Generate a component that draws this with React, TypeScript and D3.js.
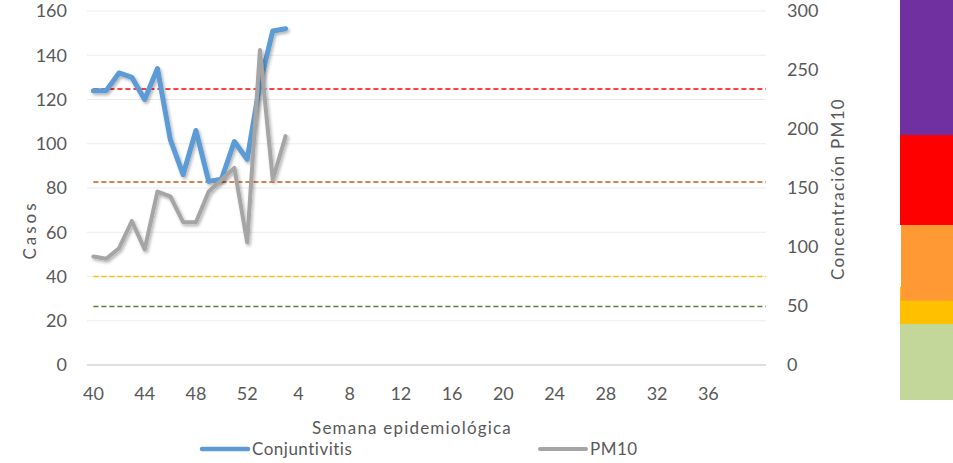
import React, { useEffect, useRef } from 'react';
import * as d3 from 'd3';

// semanas epidemiológicas (40 a 52, luego 1 a 40)
const weeks = [40, 41, 42, 43, 44, 45, 46, 47, 48, 49, 50, 51, 52,
  1, 2, 3, 4, 5, 6, 7, 8, 9, 10, 11, 12, 13, 14, 15, 16, 17, 18, 19, 20,
  21, 22, 23, 24, 25, 26, 27, 28, 29, 30, 31, 32, 33, 34, 35, 36, 37, 38, 39, 40];
const tickLabels = ['40', '44', '48', '52', '4', '8', '12', '16', '20', '24', '28', '32', '36'];

const conjuntivitis = [124, 124, 132, 130, 120, 134, 102, 86, 106, 83, 84, 101, 93, 127, 151, 152];
const pm10 = [92, 90, 99, 122, 98, 147, 143, 121, 121, 147, 157, 167, 104, 267, 157, 194];

const leftTicks = [0, 20, 40, 60, 80, 100, 120, 140, 160];
const rightTicks = [0, 50, 100, 150, 200, 250, 300];

// umbrales PM10 (eje derecho)
const thresholds = [
  { value: 234, color: '#ff0000' },
  { value: 155, color: '#c55a11' },
  { value: 75, color: '#ffc000' },
  { value: 49.5, color: '#548235' },
];

// barra de colores a la derecha (unidades relativas de la escala de la barra)
const colorBands = [
  { from: 265, to: 400, color: '#7030a0' },
  { from: 175, to: 265, color: '#ff0000' },
  { from: 76, to: 113.3, color: '#ffc000' },
  { from: 99.3, to: 175, color: '#ff9933' },
  { from: 0, to: 76, color: '#c4d79b' },
];

const FONT = 'Lato, "Open Sans", sans-serif';
const TEXT = '#595959';

const App = () => {
  const ref = useRef<SVGSVGElement>(null);

  useEffect(() => {
    const svg = d3.select(ref.current);
    svg.selectAll('*').remove();

    const left = 87, right = 766, top = 11, bottom = 365;

    const x = d3.scaleBand<number>()
      .domain(weeks.map((_, i) => i))
      .range([left, right])
      .padding(0);
    const cx = (i: number) => (x(i) as number) + x.bandwidth() / 2;

    const yL = d3.scaleLinear().domain([0, 160]).range([bottom, top]);
    const yR = d3.scaleLinear().domain([0, 300]).range([bottom, top]);

    const defs = svg.append('defs');
    const f = defs.append('filter').attr('id', 'shadow')
      .attr('x', '-10%').attr('y', '-10%').attr('width', '130%').attr('height', '130%');
    f.append('feDropShadow')
      .attr('dx', 1.5).attr('dy', 2).attr('stdDeviation', 1.5)
      .attr('flood-color', '#000').attr('flood-opacity', 0.3);

    // gridlines
    svg.append('g')
      .selectAll('line')
      .data(leftTicks)
      .enter().append('line')
      .attr('x1', left).attr('x2', right)
      .attr('y1', d => yL(d)).attr('y2', d => yL(d))
      .attr('stroke', d => (d === 0 ? '#d4d4d4' : '#ebebeb'))
      .attr('stroke-width', d => (d === 0 ? 1.5 : 1.2));

    // left axis labels
    svg.append('g')
      .selectAll('text')
      .data(leftTicks)
      .enter().append('text')
      .attr('x', 67).attr('y', d => yL(d))
      .attr('dy', '0.35em')
      .attr('text-anchor', 'end')
      .attr('font-size', 18).attr('font-family', FONT).attr('fill', TEXT)
      .text(d => d);

    // right axis labels
    svg.append('g')
      .selectAll('text')
      .data(rightTicks)
      .enter().append('text')
      .attr('x', 787).attr('y', d => yR(d))
      .attr('dy', '0.35em')
      .attr('font-size', 18).attr('font-family', FONT).attr('fill', TEXT)
      .text(d => d);

    // x axis labels
    const labelIdx = tickLabels.map((_, k) => k * 4);
    svg.append('g')
      .selectAll('text')
      .data(labelIdx)
      .enter().append('text')
      .attr('x', d => cx(d)).attr('y', 394)
      .attr('dy', '0.35em')
      .attr('text-anchor', 'middle')
      .attr('font-size', 18).attr('font-family', FONT).attr('fill', TEXT)
      .text((_, k) => tickLabels[k]);

    // axis titles
    svg.append('text')
      .attr('transform', 'translate(30,230) rotate(-90)')
      .attr('text-anchor', 'middle').attr('dy', '0.35em')
      .attr('font-size', 17).attr('font-family', FONT).attr('fill', TEXT)
      .attr('letter-spacing', 3)
      .text('Casos');
    svg.append('text')
      .attr('transform', 'translate(838,189) rotate(-90)')
      .attr('text-anchor', 'middle').attr('dy', '0.35em')
      .attr('font-size', 17).attr('font-family', FONT).attr('fill', TEXT)
      .attr('letter-spacing', 1.3)
      .text('Concentración PM10');
    svg.append('text')
      .attr('x', 412).attr('y', 428)
      .attr('text-anchor', 'middle').attr('dy', '0.35em')
      .attr('font-size', 17).attr('font-family', FONT).attr('fill', TEXT)
      .attr('letter-spacing', 1.2)
      .text('Semana epidemiológica');

    // threshold lines
    svg.append('g')
      .selectAll('line')
      .data(thresholds)
      .enter().append('line')
      .attr('x1', cx(0)).attr('x2', right)
      .attr('y1', d => yR(d.value)).attr('y2', d => yR(d.value))
      .attr('stroke', d => d.color)
      .attr('stroke-width', 1.5)
      .attr('stroke-dasharray', '5,3');

    // series
    const lineL = d3.line<number>().x((_, i) => cx(i)).y(d => yL(d));
    const lineR = d3.line<number>().x((_, i) => cx(i)).y(d => yR(d));

    svg.append('path')
      .datum(conjuntivitis)
      .attr('fill', 'none')
      .attr('stroke', '#5b9bd5')
      .attr('stroke-width', 5)
      .attr('stroke-linejoin', 'round')
      .attr('stroke-linecap', 'round')
      .attr('filter', 'url(#shadow)')
      .attr('d', lineL);

    svg.append('path')
      .datum(pm10)
      .attr('fill', 'none')
      .attr('stroke', '#a5a5a5')
      .attr('stroke-width', 4)
      .attr('stroke-linejoin', 'round')
      .attr('stroke-linecap', 'round')
      .attr('filter', 'url(#shadow)')
      .attr('d', lineR);

    // legend
    const legend = [
      { name: 'Conjuntivitis', color: '#5b9bd5', x: 202, w: 4.5 },
      { name: 'PM10', color: '#a5a5a5', x: 540, w: 4 },
    ];
    const lg = svg.append('g').selectAll('g').data(legend).enter().append('g');
    lg.append('line')
      .attr('x1', d => d.x).attr('x2', d => d.x + 46)
      .attr('y1', 449).attr('y2', 449)
      .attr('stroke', d => d.color).attr('stroke-width', d => d.w)
      .attr('stroke-linecap', 'round');
    lg.append('text')
      .attr('x', d => d.x + 50).attr('y', 449).attr('dy', '0.35em')
      .attr('font-size', 17).attr('font-family', FONT).attr('fill', TEXT)
      .attr('letter-spacing', 0.5)
      .text(d => d.name);

    // color bar
    const yb = d3.scaleLinear().domain([0, 400]).range([400, 0]);
    svg.append('g')
      .selectAll('rect')
      .data(colorBands)
      .enter().append('rect')
      .attr('x', d => (d.color === '#ff9933' ? 901 : 900))
      .attr('width', 53)
      .attr('y', d => yb(d.to))
      .attr('height', d => yb(d.from) - yb(d.to))
      .attr('fill', d => d.color);
  }, []);

  return (
    <div style={{ position: 'absolute', left: 0, top: 0 }}>
      <svg ref={ref} width={953} height={463} style={{ display: 'block', background: '#fff' }}></svg>
    </div>
  );
};

export default App;
